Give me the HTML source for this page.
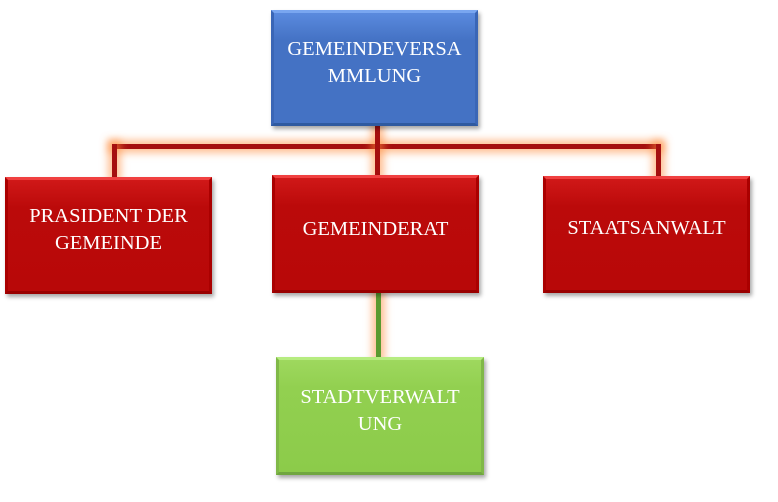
<!DOCTYPE html>
<html><head><style>
body{margin:0;width:778px;height:502px;background:#fff;position:relative;overflow:hidden;font-family:"Liberation Serif",serif}
.b{position:absolute;box-sizing:border-box;color:#fff;font-size:20.5px;line-height:27px;text-align:center;display:flex;justify-content:center;padding:0 4px;box-shadow:2px 3px 4px rgba(0,0,0,.35);white-space:nowrap}
.r{background:linear-gradient(#d01818,#bb0a0a 25%,#b80808);border-top:3px solid #f04040;border-left:3px solid #a00;border-right:3px solid #a00;border-bottom:3px solid #900}
.bl{background:linear-gradient(#5a8ade,#4472c4 25%,#4472c4);border-top:3px solid #79a6f0;border-left:3px solid #3a66b6;border-right:3px solid #3a66b6;border-bottom:3px solid #2f5aa0}
.g{background:linear-gradient(#9ed85e,#92d050 25%,#8ccb4a);border-top:3px solid #b6ec80;border-left:3px solid #80b848;border-right:3px solid #80b848;border-bottom:3px solid #70a640}
.l{position:absolute;background:#a50f0f;box-shadow:0 0 8px 4px rgba(255,140,60,.55)}
</style></head><body>
<div class="l" style="left:112px;top:144px;width:548px;height:5px"></div>
<div class="l" style="left:112px;top:144px;width:5px;height:33px"></div>
<div class="l" style="left:375px;top:125px;width:5px;height:51px"></div>
<div class="l" style="left:656px;top:144px;width:5px;height:33px"></div>
<div class="l" style="left:376px;top:293px;width:5px;height:64px;background:#5a9a30"></div>
<div class="b bl" style="left:271px;top:10px;width:207px;height:116px;padding-top:23px">GEMEINDEVERSA<br>MMLUNG</div>
<div class="b r" style="left:5px;top:177px;width:207px;height:117px;align-items:center;padding-bottom:12px">PRASIDENT DER<br>GEMEINDE</div>
<div class="b r" style="left:272px;top:175px;width:207px;height:118px;align-items:center;padding-bottom:10px">GEMEINDERAT</div>
<div class="b r" style="left:543px;top:176px;width:207px;height:117px;align-items:center;padding-bottom:12px">STAATSANWALT</div>
<div class="b g" style="left:276px;top:357px;width:208px;height:118px;padding-top:24px">STADTVERWALT<br>UNG</div>
</body></html>
